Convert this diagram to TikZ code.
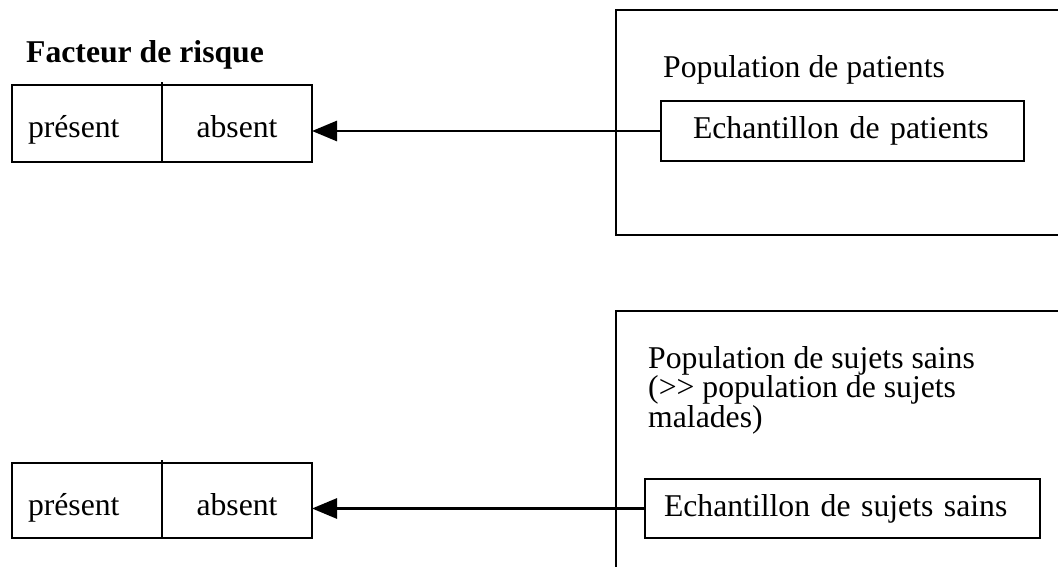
\documentclass[tikz,border=0pt]{standalone}
\usepackage{fontspec}
\setmainfont{Liberation Serif}
\usetikzlibrary{positioning,arrows.meta}

\tikzset{
  cell/.style={draw, line width=2.8pt, outer sep=0pt, minimum width=150pt, inner sep=0pt,
    text height=29pt, text depth=0pt},
  leftcell/.style={cell, text width=118pt, inner xsep=16pt, align=left},
  samplebox/.style={draw, line width=2.8pt, outer sep=0pt, inner ysep=0pt, align=left},
  link/.style={line width=2.8pt, -{Triangle[length=25pt,width=20pt]}},
  frame/.style={line width=2.8pt}
}

\begin{document}
\begin{tikzpicture}[x=1pt,y=-1pt,nodes={font=\fontsize{31.7}{27}\selectfont}]
\useasboundingbox (0,0) rectangle (1058,567);
% populations
\draw[frame] (1065,10) -- (616,10) -- (616,235) -- (1065,235);
\draw[frame] (1065,311) -- (616,311) -- (616,575);
\node[anchor=base west, inner sep=0pt] (popP) at (663,78) {Population de patients};
\node[anchor=north west, inner sep=0pt, align=left] (popS) at (648,346)
  {Population de sujets sains\\(>{}> population de sujets\\malades)};

% echantillons
\node[samplebox, text width=299pt, inner xsep=32pt, minimum height=60pt] (echP) at (842.5,131) {Echantillon de patients};
\node[samplebox, text width=357pt, inner xsep=19pt, minimum height=59pt] (echS) at (842.5,508.5) {Echantillon de sujets sains};

% facteur de risque
\node[anchor=base west, inner sep=0pt, font=\fontsize{31.7}{27}\selectfont\bfseries] (facteur) at (26,63) {Facteur de risque};
\node[leftcell, minimum height=77pt] (presT) at (87,123.5) {présent};
\node[cell, minimum height=77pt, right=0pt of presT] (absT) {absent};
\draw[frame] (presT.north east) -- ++(0,-3);

\node[leftcell, minimum height=75pt] (presB) at (87,500.5) {présent};
\node[cell, minimum height=75pt, right=0pt of presB] (absB) {absent};
\draw[frame] (presB.north east) -- ++(0,-3);

% fleches
\draw[link] (echP.west) -- (echP.west -| absT.east);
\draw[link] (echS.west) -- (echS.west -| absB.east);
\end{tikzpicture}
\end{document}
